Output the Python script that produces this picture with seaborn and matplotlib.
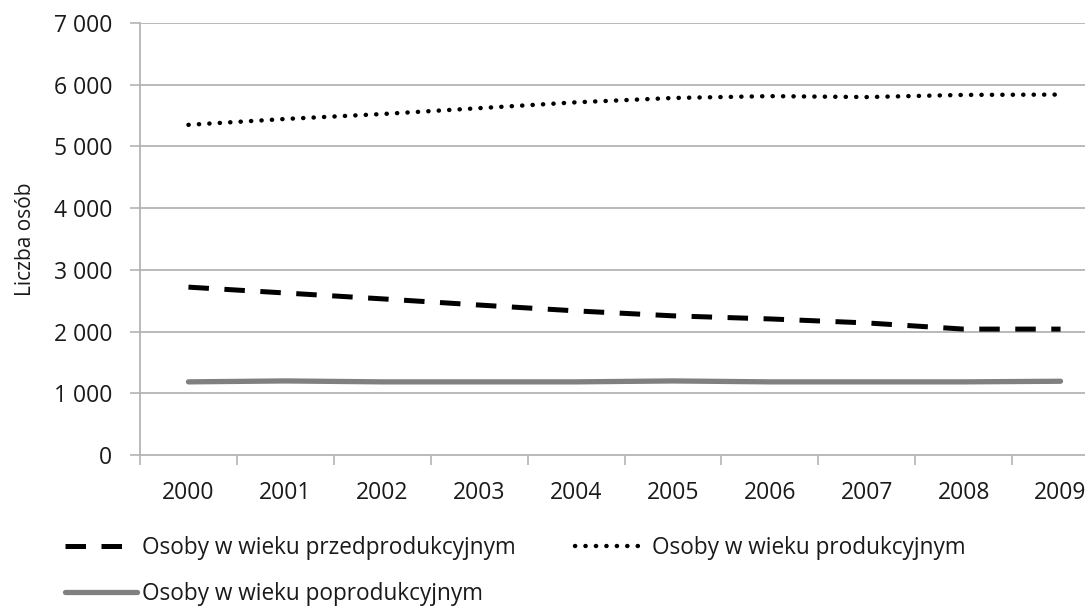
import pandas as pd
import matplotlib.pyplot as plt
import matplotlib.ticker as mticker
import seaborn as sns

years = [2000, 2001, 2002, 2003, 2004, 2005, 2006, 2007, 2008, 2009]
przedprodukcyjny = [2720, 2625, 2530, 2430, 2335, 2255, 2205, 2140, 2040, 2040]
produkcyjny = [5350, 5445, 5525, 5620, 5715, 5785, 5815, 5800, 5835, 5840]
poprodukcyjny = [1185, 1200, 1185, 1185, 1185, 1200, 1185, 1185, 1185, 1195]

labels = [
    "Osoby w wieku przedprodukcyjnym",
    "Osoby w wieku produkcyjnym",
    "Osoby w wieku poprodukcyjnym",
]
y_ticks = [0, 1000, 2000, 3000, 4000, 5000, 6000, 7000]


def main():
    sns.set_style("white")
    plt.rcParams["font.family"] = ["Open Sans", "DejaVu Sans"]

    df = pd.DataFrame({
        "pos": list(range(len(years))) * 3,
        "value": przedprodukcyjny + produkcyjny + poprodukcyjny,
        "group": [labels[0]] * 10 + [labels[1]] * 10 + [labels[2]] * 10,
    })

    fig = plt.figure(figsize=(10.85, 6.07), dpi=100)
    ax = fig.add_axes([140 / 1085, 1 - 455 / 607, 969 / 1085, 432 / 607])

    grid_col = "#b4b4b4"
    text_col = "#1a1a1a"
    for y in y_ticks[1:]:
        ax.axhline(y, color=grid_col, lw=1.3, zorder=0)

    # line look per series
    styles = {
        labels[0]: dict(color="black", lw=3.6, dashes=(4.1, 3.1), cap="butt"),
        labels[1]: dict(color="black", lw=3.2, dashes=(0.05, 2.3), cap="round"),
        labels[2]: dict(color="#808080", lw=3.8, dashes=None, cap="round"),
    }
    handles = {}
    for name in labels:
        sub = df[df["group"] == name]
        st = styles[name]
        sns.lineplot(data=sub, x="pos", y="value", ax=ax, color=st["color"],
                     linewidth=st["lw"], legend=False, zorder=3)
        line = ax.lines[-1]
        if st["dashes"]:
            line.set_dashes(st["dashes"])
        line.set_solid_capstyle("round")
        line.set_dash_capstyle(st["cap"])
        handles[name] = line

    ax.set_xlim(-0.5, 9.5)
    ax.set_ylim(0, 7000)
    ax.set_xticks(range(len(years)))
    ax.set_xticklabels([str(y) for y in years])
    ax.set_xticks([i - 0.5 for i in range(len(years) + 1)], minor=True)
    ax.set_yticks(y_ticks)
    ax.yaxis.set_major_formatter(mticker.FuncFormatter(
        lambda v, p: f"{int(v):,}".replace(",", " ")))

    ax.tick_params(axis="x", which="major", length=0, pad=19, labelsize=16.5, labelcolor=text_col)
    ax.tick_params(axis="x", which="minor", length=7, width=1.2, color=grid_col, direction="out")
    ax.tick_params(axis="y", length=7, width=1.2, color=grid_col, direction="out", pad=13,
                   labelsize=16.5, labelcolor=text_col)
    ax.tick_params(bottom=True, left=True, which="both")

    for side in ["top", "right"]:
        ax.spines[side].set_visible(False)
    for side in ["left", "bottom"]:
        ax.spines[side].set_color(grid_col)
        ax.spines[side].set_linewidth(1.3)

    ax.set_xlabel("")
    ax.set_ylabel("Liczba osób", fontsize=15, color=text_col)
    ax.yaxis.set_label_coords(-104 / 969, 0.5)

    order = [labels[0], labels[2], labels[1]]
    fig.legend([handles[n] for n in order], order, loc="upper left",
               bbox_to_anchor=(65 / 1085, 1 - 536 / 607), ncol=2, frameon=False,
               fontsize=16.3, handlelength=3.2, handletextpad=0.2, columnspacing=2.6,
               labelspacing=0.95, borderpad=0, borderaxespad=0, labelcolor=text_col)

    fig.savefig("out.png", dpi=100)


if __name__ == "__main__":
    main()
